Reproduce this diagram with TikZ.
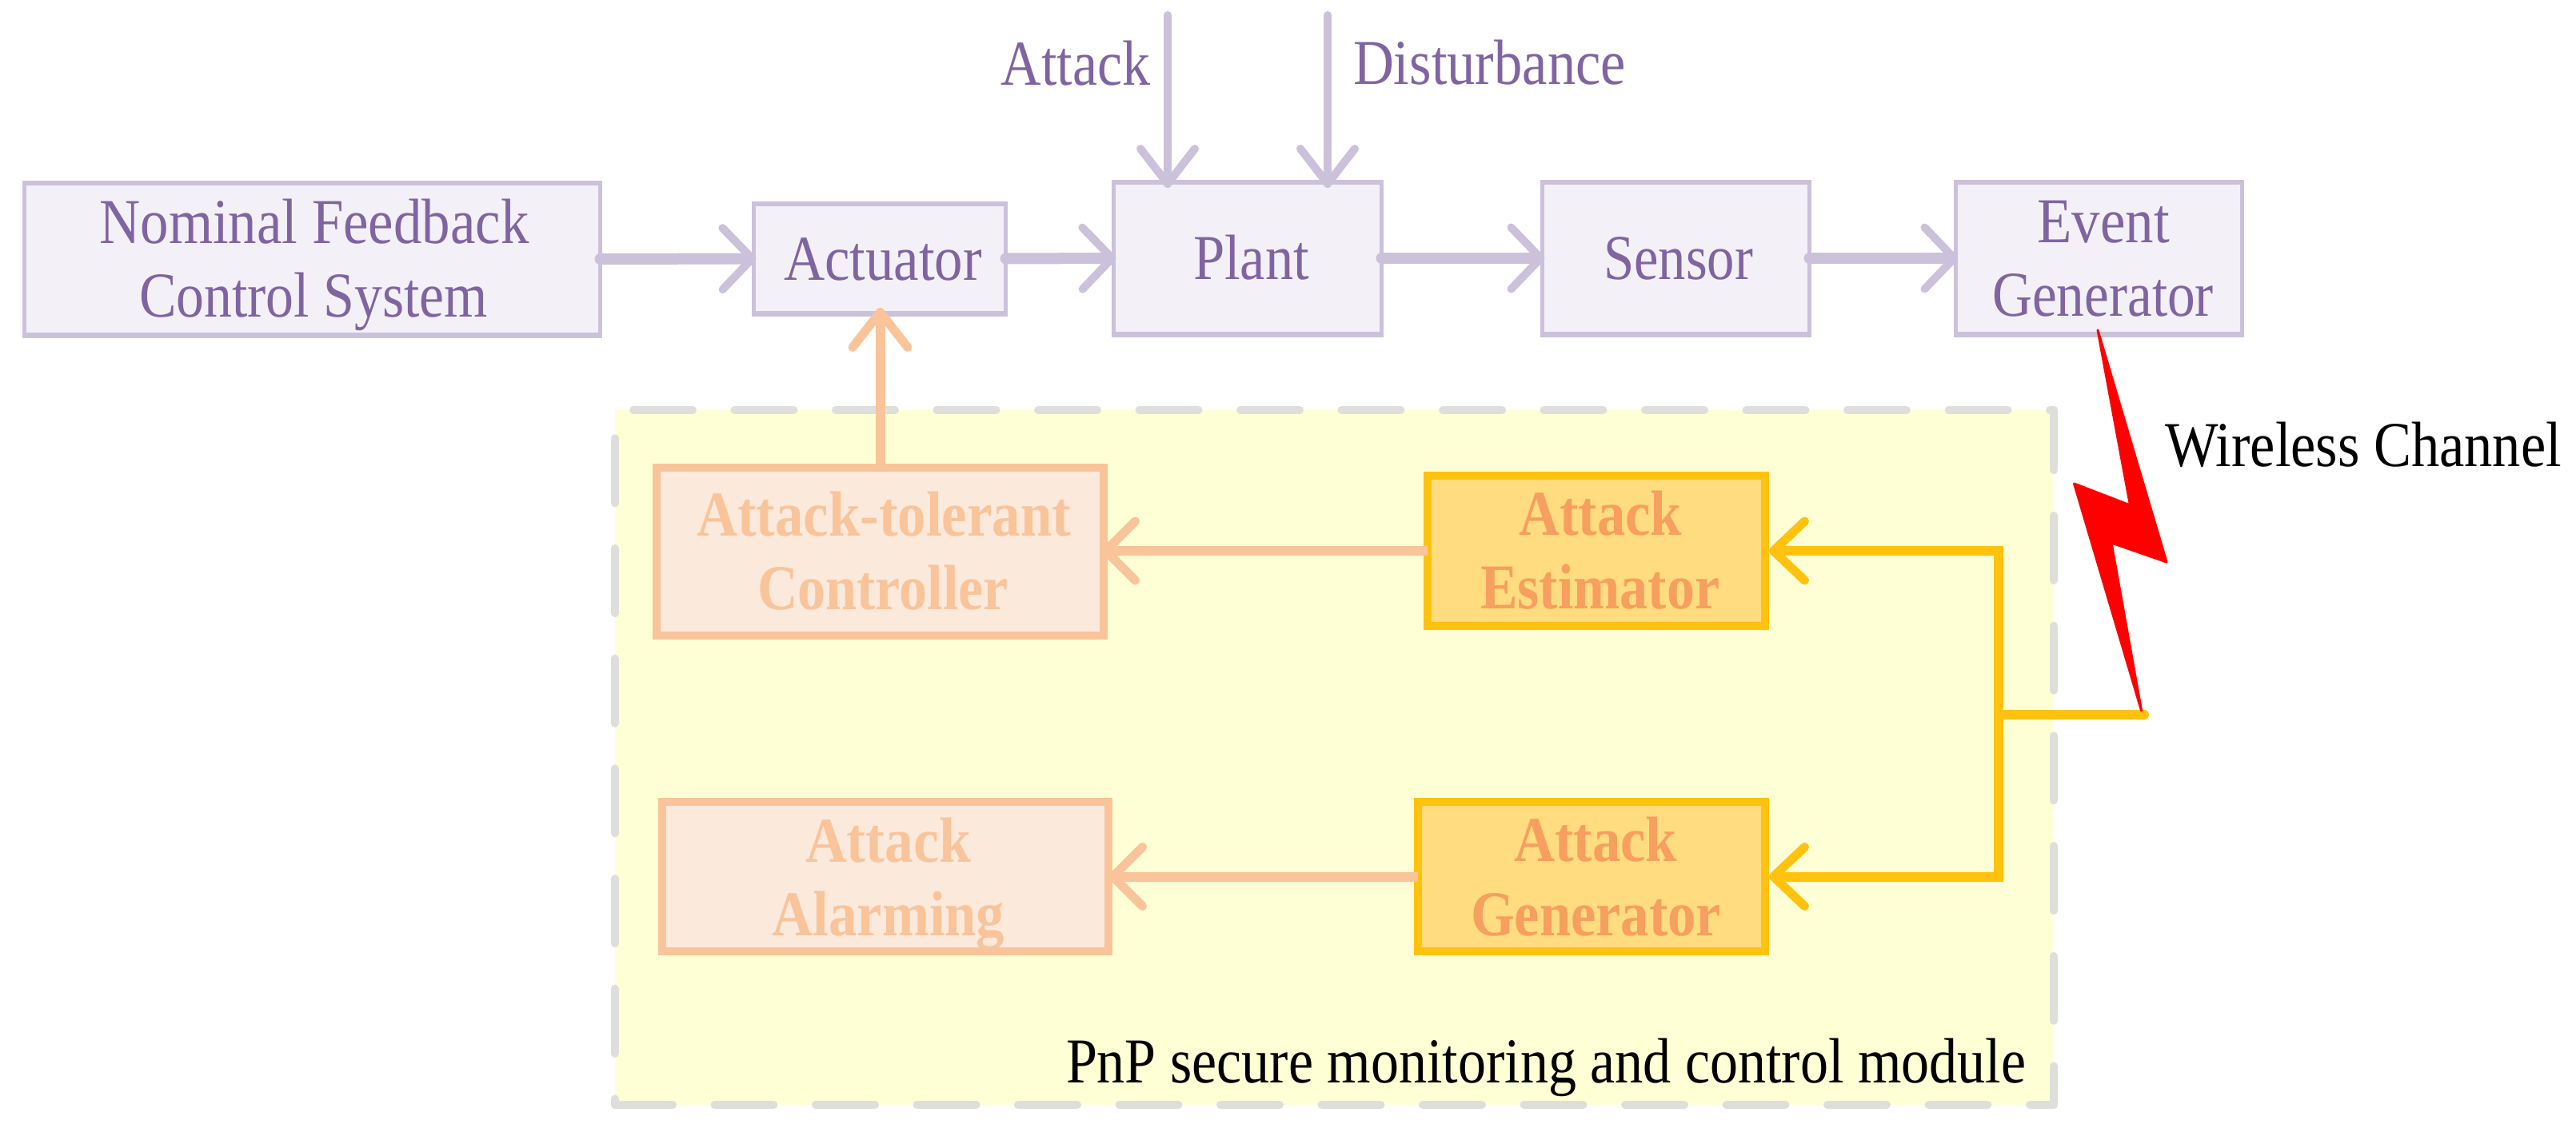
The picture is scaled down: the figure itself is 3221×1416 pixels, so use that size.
\documentclass[tikz,border=0pt]{standalone}
\usepackage{fontspec}
\usepackage{graphicx}
\setmainfont{Liberation Serif}
\usetikzlibrary{arrows.meta,calc}
\definecolor{plin}{HTML}{CCC1DA}
\definecolor{pfil}{HTML}{F3F1F7}
\definecolor{ptxt}{HTML}{8064A2}
\definecolor{alin}{HTML}{F9C49A}
\definecolor{afil}{HTML}{FBE9DC}
\definecolor{olin}{HTML}{FFC20E}
\definecolor{ofil}{HTML}{FFDC7F}
\definecolor{otxt}{HTML}{F79F5F}
\definecolor{bgy}{HTML}{FFFFD5}
\definecolor{dsh}{HTML}{DEDEDA}
% dx, dy (up), ink width, text: placed relative to the node centre
\newcommand{\ptx}[4]{\smash{\rlap{\hspace*{#1pt}\raisebox{#2pt}{\makebox[0pt]{\resizebox{#3pt}{\height}{#4}}}}}}
\tikzset{
  pbox/.style={draw=plin,fill=pfil,text=ptxt,line width=5.5pt,inner sep=0pt,outer sep=0pt,font=\fontsize{80}{92}\selectfont,
    append after command={\pgfextra{\draw[plin,line width=8pt,shorten <=-2.75pt,shorten >=-2.75pt] (\tikzlastnode.north west) -- (\tikzlastnode.north east);
      \draw[plin,line width=8pt,shorten <=-2.75pt,shorten >=-2.75pt] (\tikzlastnode.south west) -- (\tikzlastnode.south east);}}},
  abox/.style={draw=alin,fill=afil,text=alin,line width=10pt,inner sep=0pt,outer sep=0pt,font=\fontsize{80}{92}\selectfont\bfseries},
  obox/.style={draw=olin,fill=ofil,text=otxt,line width=9.5pt,inner sep=0pt,outer sep=0pt,font=\fontsize{80}{92}\selectfont\bfseries},
  plabel/.style={anchor=base,inner sep=0pt,text=ptxt,font=\fontsize{80}{92}\selectfont},
  klabel/.style={anchor=base,inner sep=0pt,text=black,font=\fontsize{80}{92}\selectfont},
  hflow/.style={draw=plin,line width=14pt,line cap=round,-{Straight Barb[length=37pt,width=77pt,line width=10pt,round]}},
  vflow/.style={draw=plin,line width=10pt,line cap=round,-{Straight Barb[length=44pt,width=68pt,line width=10pt,round]}},
  aflow/.style={draw=alin,line width=12pt,-{Straight Barb[length=37pt,width=74pt,line width=11pt,round]}},
  auflow/.style={draw=alin,line width=12pt,-{Straight Barb[length=44pt,width=69pt,line width=11pt,round]}},
  oflow/.style={draw=olin,line width=12pt,-{Straight Barb[length=39pt,width=74pt,line width=11pt,round]}},
  dside/.style={draw=dsh,line width=10pt,line cap=round},
}
\begin{document}
\begin{tikzpicture}[x=1pt,y=-1pt]
\useasboundingbox (0,0) rectangle (3221,1416);
% module background
\coordinate (mnw) at (769,513);
\coordinate (mne) at (2568,513);
\coordinate (mse) at (2568,1382);
\coordinate (msw) at (769,1382);
\fill[bgy] (mnw) -- (mne) -- (mse) -- (msw) -- cycle;
\draw[dside,dash pattern=on 74pt off 52.5pt,dash phase=103.5pt] (mnw) -- (mne);
\draw[dside,dash pattern=on 81pt off 56.7pt,dash phase=5.7pt] (mne) -- (mse);
\draw[dside,dash pattern=on 74pt off 52.5pt,dash phase=44pt] (mse) -- (msw);
\draw[dside,dash pattern=on 81pt off 56.7pt,dash phase=73.5pt] (msw) -- (mnw);
% top row
\node[pbox,minimum width=720pt,minimum height=189pt] (nom) at (390.5,324)
  {\ptx{2.5}{20}{537}{Nominal Feedback}\ptx{1.5}{-72}{436}{Control System}};
\node[pbox,minimum width=315pt,minimum height=136pt] (act) at (1100,323.5)
  {\ptx{4}{-26.5}{248}{Actuator}};
\node[pbox,minimum width=335pt,minimum height=189pt] (plant) at (1560,323)
  {\ptx{4.5}{-26}{145}{Plant}};
\node[pbox,minimum width=334pt,minimum height=189pt] (sens) at (2095.5,323)
  {\ptx{3}{-26}{187}{Sensor}};
\node[pbox,minimum width=358pt,minimum height=189pt] (evt) at (2624.5,323)
  {\ptx{5.5}{20}{165.5}{Event}\ptx{5}{-72}{277}{Generator}};
% module blocks
\node[abox,minimum width=559pt,minimum height=210pt] (ctl) at (1100.5,690)
  {\ptx{4.5}{20}{468}{Attack-tolerant}\ptx{3.5}{-72}{314}{Controller}};
\node[abox,minimum width=558pt,minimum height=187pt] (alm) at (1107,1096.5)
  {\ptx{3.5}{18.5}{207}{Attack}\ptx{4}{-73.5}{290.5}{Alarming}};
\node[obox,minimum width=422pt,minimum height=188pt] (est) at (1996,689)
  {\ptx{5}{20}{204}{Attack}\ptx{4.5}{-72}{299}{Estimator}};
\node[obox,minimum width=434pt,minimum height=187pt] (gen) at (1990,1096.5)
  {\ptx{5}{19.5}{204}{Attack}\ptx{5.5}{-73.5}{313}{Generator}};
% free labels
\node[plabel] (latk) at (1345,106) {\resizebox{186.5pt}{\height}{Attack}};
\node[plabel] (ldis) at (1862.5,105) {\resizebox{341pt}{\height}{Disturbance}};
\node[klabel] (lwir) at (2955,583) {\resizebox{496pt}{\height}{Wireless Channel}};
\node[klabel] (lpnp) at (1933,1354) {\resizebox{1200pt}{\height}{PnP secure monitoring and control module}};
% purple flows
\draw[hflow,shorten >=-3pt] (nom.east) -- (act.west);
\draw[hflow,shorten >=-3pt] (act.east) -- (plant.west);
\draw[hflow,shorten >=-3pt] (plant.east) -- (sens.west);
\draw[hflow,shorten >=-3pt] (sens.east) -- (evt.west);
\coordinate (ain) at (1460,19);
\coordinate (din) at (1660,19);
\draw[vflow,shorten >=-6.5pt] (ain) -- (ain |- plant.north);
\draw[vflow,shorten >=-6.5pt] (din) -- (din |- plant.north);
% peach flows
\draw[auflow,shorten >=-6.5pt] (ctl.north) -- (ctl.north |- act.south);
\draw[aflow,shorten >=-3pt] (est.west) -- (est.west -| ctl.east);
\draw[aflow] (gen.west) -- (gen.west -| alm.east);
% wireless bolt
\coordinate (bt) at (2623,413);
\coordinate (bn1) at (2663.5,632);
\coordinate (bl) at (2593.5,605);
\coordinate (bb) at (2677.6,889);
\coordinate (bn2) at (2640,679);
\coordinate (br) at (2709,703);
% yellow flows
\coordinate (jt) at (2499,894);
\coordinate (wl) at (2681,894);
\draw[olin,line width=12pt,line cap=round] (jt) -- (wl);
\draw[oflow,shorten >=5pt] (jt) |- (est.east);
\draw[oflow,shorten >=5pt] (jt) |- (gen.east);
\fill[red,line join=round] (bt) -- (bn1) -- (bl) -- (bb) -- (bn2) -- (br) -- cycle;
\draw[red,line width=3pt,line join=round] (bt) -- (bn1) -- (bl) -- (bb) -- (bn2) -- (br) -- cycle;
\end{tikzpicture}
\end{document}
